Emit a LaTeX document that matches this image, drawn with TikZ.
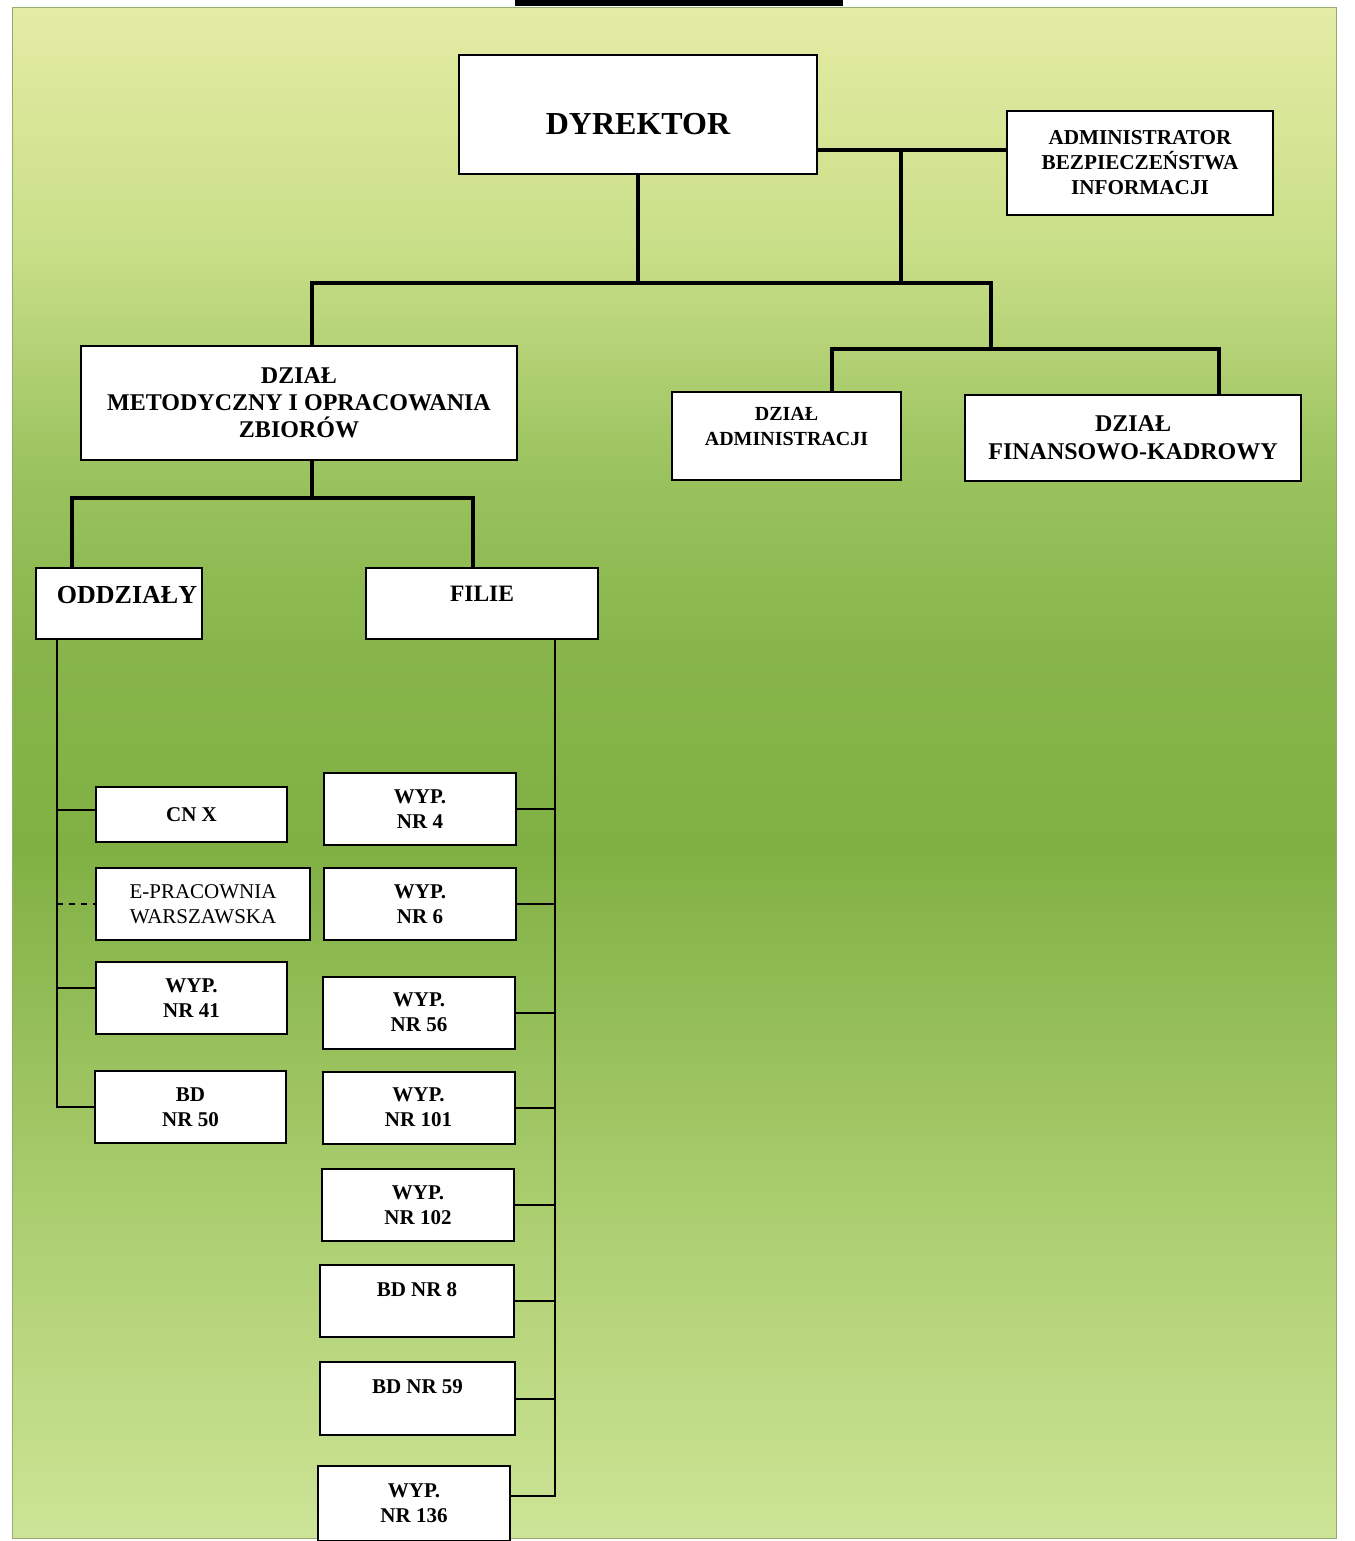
\documentclass[tikz,border=0pt]{standalone}
\usepackage{fontspec}
\setmainfont{Liberation Serif}
\definecolor{bgtop}{RGB}{228,236,165}
\definecolor{bghigh}{RGB}{200,222,135}
\definecolor{bgupper}{RGB}{155,195,95}
\definecolor{bgdark}{RGB}{135,181,75}
\definecolor{bgdeep}{RGB}{128,176,68}
\definecolor{bglow}{RGB}{170,205,110}
\definecolor{bgbot}{RGB}{205,228,150}
\definecolor{bgedge}{RGB}{150,170,115}
\pgfdeclareverticalshading{panelshade}{100bp}{color(0bp)=(bgbot); color(25bp)=(bgbot);
  color(36bp)=(bglow); color(47.5bp)=(bgdeep); color(54bp)=(bgdark); color(60bp)=(bgupper);
  color(67bp)=(bghigh); color(75bp)=(bgtop); color(100bp)=(bgtop)}

\begin{document}
\begin{tikzpicture}[x=0.5pt,y=-0.5pt,
  unitbox/.style={draw, line width=1pt, fill=white, align=center, inner sep=0pt,
    font=\bfseries\fontsize{10.5}{12.5}\selectfont},
  smallbox/.style={unitbox, minimum width=96pt, minimum height=36pt},
  boldlink/.style={line width=2pt},
  finelink/.style={line width=1pt}]
  \useasboundingbox (0,0) rectangle (1354,1541);
  \fill[white] (0,0) rectangle (1354,1541);
  % background panel
  \shade[shading=panelshade] (12,8) rectangle (1336,1538);
  \draw[line width=0.5pt, bgedge] (12,8) rectangle (1336,1538);
  \fill (515,0) rectangle (843,6);

  % top level
  \node[unitbox, minimum width=179pt, minimum height=59.5pt, text height=20pt,
    font=\bfseries\fontsize{16}{18}\selectfont] (dyr) at (638,114.5) {DYREKTOR};
  \node[unitbox, minimum width=133pt, minimum height=52pt,
    font=\bfseries\fontsize{10.6}{12.5}\selectfont] (abi) at (1140,163)
    {ADMINISTRATOR\\BEZPIECZEŃSTWA\\INFORMACJI};
  \node[unitbox, minimum width=218pt, minimum height=57pt,
    font=\bfseries\fontsize{12}{13.5}\selectfont] (dmoz) at (299,403)
    {DZIAŁ\\METODYCZNY I OPRACOWANIA\\ZBIORÓW};
  \node[unitbox, minimum width=114.5pt, minimum height=44pt,
    font=\bfseries\fontsize{10}{12.5}\selectfont] (dadm) at (786.5,436)
    {\raisebox{4pt}[\height][\depth]{\begin{tabular}{@{}c@{}}DZIAŁ\\ADMINISTRACJI\end{tabular}}};
  \node[unitbox, minimum width=168pt, minimum height=43pt,
    font=\bfseries\fontsize{12}{14}\selectfont] (dfk) at (1133,438) {DZIAŁ\\FINANSOWO-KADROWY};

  % second level
  \node[unitbox, minimum width=83pt, minimum height=35.5pt, text depth=8.5pt,
    font=\bfseries\fontsize{13}{15}\selectfont] (oddz) at (119,603.5) {\hspace*{8pt}ODDZIAŁY};
  \node[unitbox, minimum width=116pt, minimum height=35.5pt, text depth=9.5pt,
    font=\bfseries\fontsize{11.75}{14}\selectfont] (filie) at (482,603.5) {FILIE};

  % oddzialy
  \node[smallbox, minimum width=95.5pt, minimum height=27.5pt] (cnx) at (191.5,814.5) {CN X};
  \node[smallbox, minimum width=107pt, font=\fontsize{10.5}{12.5}\selectfont] (epr) at (203,904)
    {E-PRACOWNIA\\WARSZAWSKA};
  \node[smallbox, minimum width=95.5pt] (w41) at (191.5,998) {WYP.\\NR 41};
  \node[smallbox, minimum width=95.5pt] (bd50) at (190.5,1107) {BD\\NR 50};

  % filie
  \foreach \n/\x/\y in {4/420/809, 6/420/904, 56/419/1012.5, 101/418.5/1107.5, 102/418/1205}
    \node[smallbox] (w\n) at (\x,\y) {WYP.\\NR \n};
  \node[smallbox, minimum width=97pt, text depth=11pt] (bd8) at (417,1301) {BD NR 8};
  \node[smallbox, minimum width=97.5pt, minimum height=36.5pt, text depth=11.5pt] (bd59)
    at (417.5,1398.5) {BD NR 59};
  \node[smallbox, minimum height=37.5pt] (w136) at (414,1503.5) {WYP.\\NR 136};

  % thick connectors
  \coordinate (j1) at (901,150);
  \coordinate (b1l) at (312,283); \coordinate (b1r) at (991,283);
  \coordinate (b2l) at (832,349); \coordinate (b2r) at (1219,349);
  \coordinate (b3) at (312,498);
  \coordinate (b3l) at (72,498); \coordinate (b3r) at (473,498);
  \draw[boldlink] (j1 -| dyr.east) -- (j1 -| abi.west);
  \draw[boldlink] (j1) -- (j1 |- b1l);
  \draw[boldlink] (dyr.south) -- (dyr.south |- b1l);
  \draw[boldlink] (b1l |- dmoz.north) -- (b1l) -- (b1r) -- (b1r |- b2l);
  \draw[boldlink] (b2l |- dadm.north) -- (b2l) -- (b2r) -- (b2r |- dfk.north);
  \draw[boldlink] (b3 |- dmoz.south) -- (b3);
  \draw[boldlink] (b3l |- oddz.north) -- (b3l) -- (b3r) -- (b3r |- filie.north);

  % thin connectors
  \coordinate (os) at (57,0); \coordinate (fs) at (555,0);
  \coordinate (cnxw) at ([yshift=2.25pt]cnx.west);
  \coordinate (w41w) at ([yshift=5pt]w41.west);
  \coordinate (w136e) at ([yshift=3.75pt]w136.east);
  \draw[finelink] (os |- oddz.south) -- (os |- bd50.west) -- (bd50.west);
  \draw[finelink] (os |- cnxw) -- (cnxw);
  \draw[finelink] (os |- w41w) -- (w41w);
  \draw[finelink, dashed] (os |- epr.west) -- (epr.west);
  \draw[finelink] (fs |- filie.south) -- (fs |- w136e) -- (w136e);
  \foreach \b in {w4,w6,w56,w101,w102,bd8,bd59}
    \draw[finelink] (\b.east) -- (fs |- \b.east);
\end{tikzpicture}
\end{document}
